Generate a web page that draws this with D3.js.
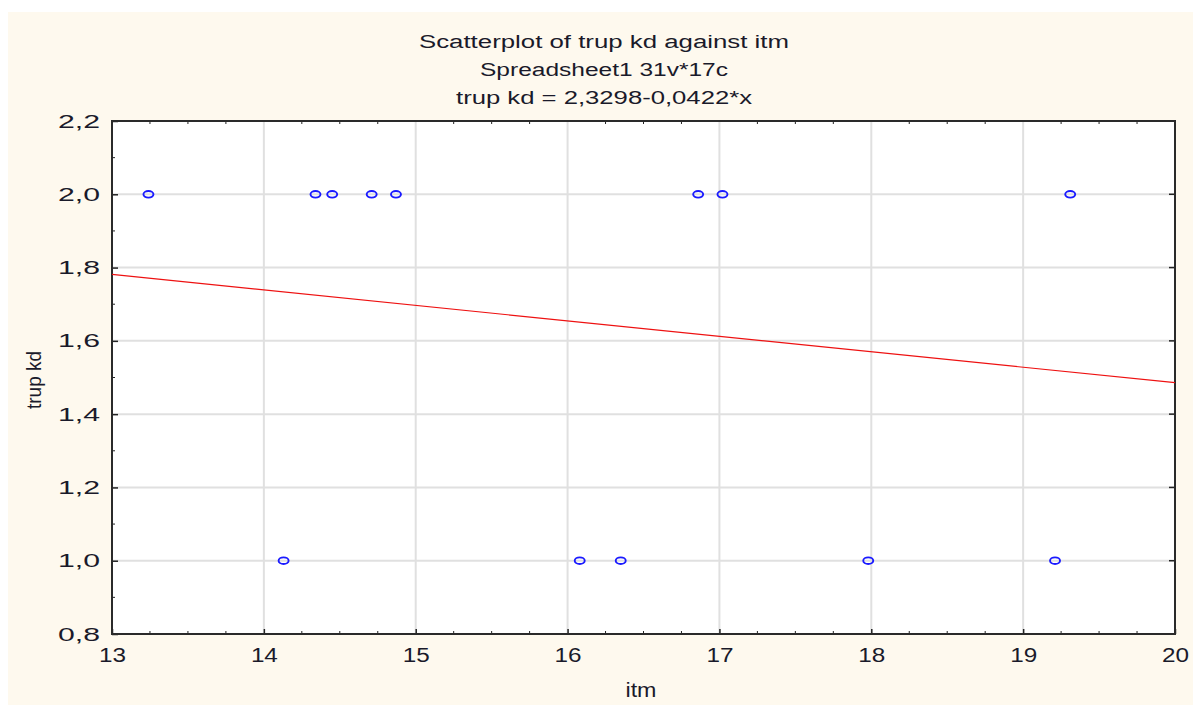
<!DOCTYPE html>
<html>
<head>
<meta charset="utf-8">
<script src="https://d3js.org/d3.v7.min.js"></script>
<style>
  body { margin: 0; background: #fff; }
  text { font-family: "Liberation Sans", Arial, sans-serif; fill: #1a1a2a; }
</style>
</head>
<body>
<div id="chart"></div>
<script>
// data
const itmHigh = [13.24, 14.34, 14.45, 14.71, 14.87, 16.86, 17.02, 19.31];
const itmLow = [14.13, 16.08, 16.35, 17.98, 19.21];
const trupHigh = 2.0, trupLow = 1.0;
const intercept = 2.3298, slope = -0.0422;
const xTicks = [13, 14, 15, 16, 17, 18, 19, 20];
const yTicks = [0.8, 1.0, 1.2, 1.4, 1.6, 1.8, 2.0, 2.2];
const titles = ["Scatterplot of trup kd against itm", "Spreadsheet1 31v*17c", "trup kd = 2,3298-0,0422*x"];

const W = 1193, H = 705;
const margin = { top: 121, right: 18, bottom: 71, left: 112 };
const width = W - margin.left - margin.right;
const height = H - margin.top - margin.bottom;

const svg = d3.select("#chart").append("svg").attr("width", W).attr("height", H);
svg.append("rect").attr("x", 8).attr("y", 12).attr("width", W - 8).attr("height", H - 12).attr("fill", "#fef9ee");

// stretch text to the widths seen in the picture
const stretch = (sel, w) => sel.attr("textLength", w).attr("lengthAdjust", "spacingAndGlyphs");

const titleW = [370, 248, 296];
titles.forEach((t, i) => {
  svg.append("text").attr("x", 604).attr("y", 48 + i * 28)
    .attr("text-anchor", "middle").style("font-size", "18px")
    .text(t).call(stretch, titleW[i]);
});

const x = d3.scaleLinear().domain([13, 20]).range([0, width]);
const y = d3.scaleLinear().domain([0.8, 2.2]).range([height, 0]);

const g = svg.append("g").attr("transform", `translate(${margin.left},${margin.top})`);
g.append("rect").attr("width", width).attr("height", height).attr("fill", "#fff");

// grid
g.selectAll(".vgrid").data(xTicks.slice(1, -1)).enter().append("line")
  .attr("x1", d => x(d)).attr("x2", d => x(d)).attr("y1", 0).attr("y2", height)
  .attr("stroke", "#e0e0e0").attr("stroke-width", 2);
g.selectAll(".hgrid").data(yTicks.slice(1, -1)).enter().append("line")
  .attr("y1", d => y(d)).attr("y2", d => y(d)).attr("x1", 0).attr("x2", width)
  .attr("stroke", "#e0e0e0").attr("stroke-width", 2);

// axes with inward ticks
const fmt = d => d3.format(".1f")(d).replace(".", ",");
const yAxis = g.append("g").call(d3.axisLeft(y).tickValues(yTicks).tickSize(-6).tickPadding(12).tickFormat(fmt));
const xAxis = g.append("g").attr("transform", `translate(0,${height})`)
  .call(d3.axisBottom(x).tickValues(xTicks).tickSize(-5).tickPadding(14).tickFormat(d3.format("d")));
[xAxis, yAxis].forEach(a => {
  a.select(".domain").remove();
  a.selectAll(".tick line").attr("stroke", "#222").attr("stroke-width", 1.5);
  a.selectAll("text").style("font-size", "19px").attr("fill", "#1a1a3a");
});
yAxis.selectAll("text").call(stretch, 42);
xAxis.selectAll("text").style("font-size", "20px").call(stretch, 27);

// minor ticks
const xMinor = d3.range(13.25, 20, 0.25).filter(v => Math.abs(v - Math.round(v)) > 0.01);
g.selectAll(".mxb").data(xMinor).enter().append("line")
  .attr("x1", d => x(d)).attr("x2", d => x(d)).attr("y1", height).attr("y2", height - 3)
  .attr("stroke", "#222");
g.selectAll(".mxt").data(xMinor).enter().append("line")
  .attr("x1", d => x(d)).attr("x2", d => x(d)).attr("y1", 0).attr("y2", 3)
  .attr("stroke", "#222");
const yMinor = d3.range(0.9, 2.2, 0.2);
g.selectAll(".my").data(yMinor).enter().append("line")
  .attr("y1", d => y(d)).attr("y2", d => y(d)).attr("x1", 0).attr("x2", 3)
  .attr("stroke", "#222");
g.selectAll(".myr").data(yTicks.slice(1, -1)).enter().append("line")
  .attr("y1", d => y(d)).attr("y2", d => y(d)).attr("x1", width).attr("x2", width - 6)
  .attr("stroke", "#222").attr("stroke-width", 1.5);

// frame
g.append("rect").attr("width", width).attr("height", height)
  .attr("fill", "none").attr("stroke", "#2a2a2a").attr("stroke-width", 2);

// regression line
g.append("line")
  .attr("x1", x(13)).attr("y1", y(intercept + slope * 13))
  .attr("x2", x(20)).attr("y2", y(intercept + slope * 20))
  .attr("stroke", "#ee1111").attr("stroke-width", 1.2);

// points
const pts = itmHigh.map(v => ({ x: v, y: trupHigh })).concat(itmLow.map(v => ({ x: v, y: trupLow })));
g.selectAll(".dot").data(pts).enter().append("ellipse")
  .attr("cx", d => x(d.x)).attr("cy", d => y(d.y)).attr("rx", 5).attr("ry", 3.3)
  .attr("fill", "none").attr("stroke", "#1a1aff").attr("stroke-width", 1.9);

// axis titles
svg.append("text").attr("x", 641).attr("y", 697).attr("text-anchor", "middle")
  .style("font-size", "20px").text("itm").call(stretch, 31);
svg.append("text").attr("transform", "translate(41,380) rotate(-90)").attr("text-anchor", "middle")
  .style("font-size", "20px").text("trup kd").call(stretch, 58);
</script>
</body>
</html>
